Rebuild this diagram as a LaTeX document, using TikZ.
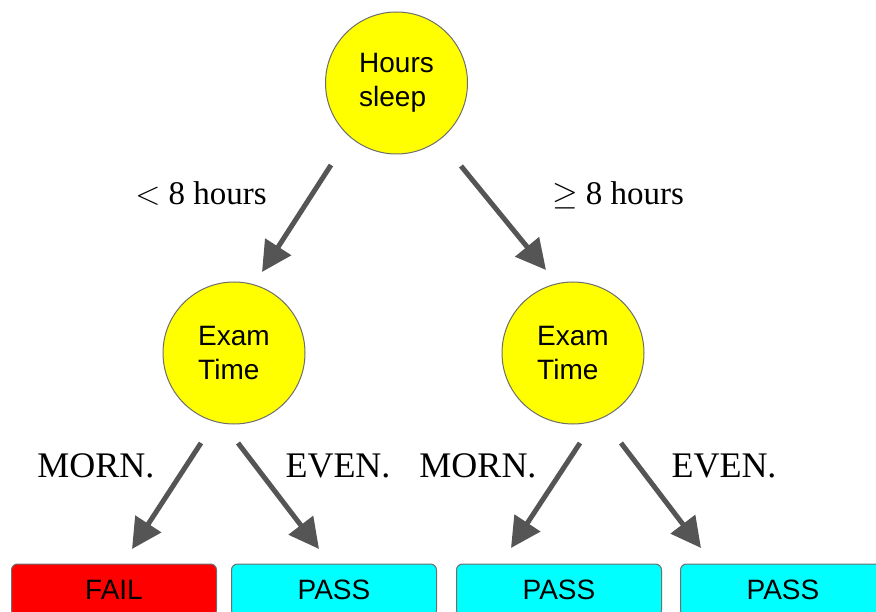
\RequirePackage{fix-cm}
\documentclass[tikz,border=0pt]{standalone}
\usepackage{fontspec}
\setmainfont{Liberation Serif}
\newfontfamily\nodefont{Liberation Sans}
\usetikzlibrary{arrows.meta}
\definecolor{arrowgray}{RGB}{85,85,85}
\definecolor{edgegray}{RGB}{110,110,110}
\definecolor{passcyan}{RGB}{0,255,255}
\definecolor{failred}{RGB}{255,0,0}
\definecolor{nodeyellow}{RGB}{255,255,0}
\tikzset{
  decision/.style={circle, draw=edgegray, line width=1pt, fill=nodeyellow,
    minimum size=142pt, inner sep=0pt, align=left,
    font=\nodefont\fontsize{28}{34}\selectfont},
  leafbox/.style={rounded corners=6pt, draw=edgegray, line width=1pt,
    minimum width=205pt, minimum height=52pt, inner sep=0pt,
    font=\nodefont\fontsize{28}{34}\selectfont},
  branch/.style={draw=arrowgray, line width=5pt,
    -{Triangle[length=30pt,width=30pt]}},
  toplabel/.style={font=\fontsize{33}{38}\selectfont, inner sep=0pt, anchor=base},
  edgelabel/.style={font=\fontsize{36}{40}\selectfont, inner sep=0pt, anchor=base}
}
\begin{document}
\begin{tikzpicture}[x=1pt,y=-1pt]
\useasboundingbox (0,0) rectangle (876,612);
\clip (0,0) rectangle (876,612);
% decision nodes
\node[decision] (root) at (396.5,83) {Hours\\sleep};
\node[decision] (left) at (234,353) {Exam\\Time};
\node[decision] (right) at (573,353) {Exam\\Time};
% leaves
\node[leafbox, fill=failred] (fail) at (114,590) {FAIL};
\node[leafbox, fill=passcyan] (pass1) at (334,590) {PASS};
\node[leafbox, fill=passcyan] (pass2) at (559,590) {PASS};
\node[leafbox, fill=passcyan] (pass3) at (783,590) {PASS};
% arrow end points
\coordinate (a1s) at (331,165);
\coordinate (a1e) at (262,272);
\coordinate (a2s) at (461,166);
\coordinate (a2e) at (546,270);
\coordinate (b1s) at (201,443);
\coordinate (b1e) at (132,549);
\coordinate (b2s) at (238,443);
\coordinate (b2e) at (319,549);
\coordinate (c1s) at (580,443);
\coordinate (c1e) at (511,548);
\coordinate (c2s) at (621,443);
\coordinate (c2e) at (701,548);
\draw[branch] (a1s) -- (a1e);
\draw[branch] (a2s) -- (a2e);
\draw[branch] (b1s) -- (b1e);
\draw[branch] (b2s) -- (b2e);
\draw[branch] (c1s) -- (c1e);
\draw[branch] (c2s) -- (c2e);
% labels
\node[toplabel] (lab1) at (201,205) {$<$ 8 hours};
\node[toplabel] (lab2) at (618,205) {$\geq$ 8 hours};
\node[edgelabel] (lab3) at (96,477) {MORN.};
\node[edgelabel] (lab4) at (338,477) {EVEN.};
\node[edgelabel] (lab5) at (478,477) {MORN.};
\node[edgelabel] (lab6) at (724,477) {EVEN.};
\end{tikzpicture}
\end{document}
